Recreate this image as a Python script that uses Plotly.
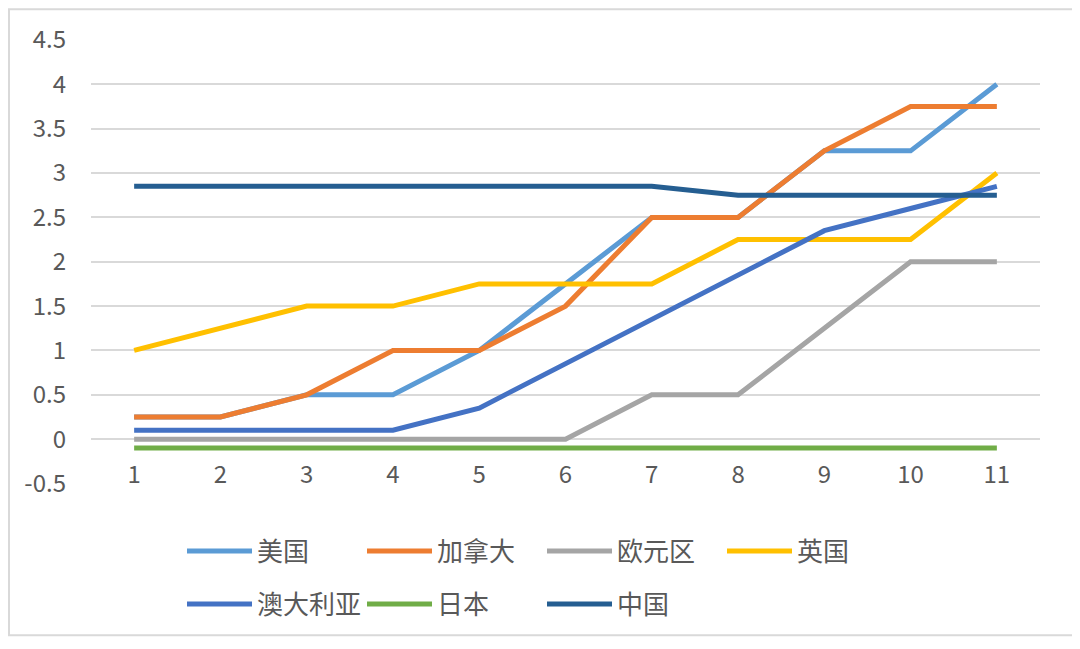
import plotly.graph_objects as go

# x categories (periods 1..11)
periods = [1, 2, 3, 4, 5, 6, 7, 8, 9, 10, 11]

usa = [0.25, 0.25, 0.5, 0.5, 1, 1.75, 2.5, 2.5, 3.25, 3.25, 4]
canada = [0.25, 0.25, 0.5, 1, 1, 1.5, 2.5, 2.5, 3.25, 3.75, 3.75]
eurozone = [0, 0, 0, 0, 0, 0, 0.5, 0.5, 1.25, 2, 2]
uk = [1, 1.25, 1.5, 1.5, 1.75, 1.75, 1.75, 2.25, 2.25, 2.25, 3]
australia = [0.1, 0.1, 0.1, 0.1, 0.35, 0.85, 1.35, 1.85, 2.35, 2.6, 2.85]
japan = [-0.1] * 11
china = [2.85, 2.85, 2.85, 2.85, 2.85, 2.85, 2.85, 2.75, 2.75, 2.75, 2.75]

y_ticks = [-0.5, 0, 0.5, 1, 1.5, 2, 2.5, 3, 3.5, 4, 4.5]
y_labels = ["-0.5", "0", "0.5", "1", "1.5", "2", "2.5", "3", "3.5", "4", "4.5"]

FONT = "Noto Sans CJK SC"
TEXT = "#595959"

# page body has an 8px margin, so the figure is 16px smaller than the window
W, H = 1064, 633

series = [
    ("美国", usa, "#5B9BD5", "legend"),
    ("加拿大", canada, "#ED7D31", "legend"),
    ("欧元区", eurozone, "#A5A5A5", "legend"),
    ("英国", uk, "#FFC000", "legend"),
    ("澳大利亚", australia, "#4472C4", "legend2"),
    ("日本", japan, "#70AD47", "legend2"),
    ("中国", china, "#255E91", "legend2"),
]

fig = go.Figure()
for name, vals, color, leg in series:
    fig.add_trace(
        go.Scatter(
            x=periods, y=vals, name=name, mode="lines",
            line=dict(color=color, width=5),
            legend=leg,
        )
    )

legend_common = dict(
    orientation="h",
    xref="container", yref="container",
    xanchor="left", yanchor="middle",
    entrywidth=100, entrywidthmode="pixels",
    itemwidth=65,
    font=dict(family=FONT, size=26, color=TEXT),
    bgcolor="rgba(0,0,0,0)",
)

fig.update_layout(
    width=W, height=H,
    paper_bgcolor="white", plot_bgcolor="white",
    margin=dict(l=83, r=32, t=32, b=154),
    font=dict(family=FONT, color=TEXT),
    showlegend=True,
    legend=dict(legend_common, x=174 / W, y=1 - 543 / H),
    legend2=dict(legend_common, x=174 / W, y=1 - 596 / H),
)

fig.update_xaxes(
    range=[0.5, 11.5],
    tickmode="array", tickvals=periods,
    showgrid=False, zeroline=False, showline=False,
    anchor="free", position=0.058,
    tickfont=dict(family=FONT, size=24, color=TEXT),
)
fig.update_yaxes(
    range=[-0.5, 4.5],
    tickmode="array", tickvals=y_ticks, ticktext=y_labels,
    showgrid=True, gridcolor="#D9D9D9", gridwidth=1.5,
    zeroline=False, showline=False,
    ticklabelstandoff=24,
    tickfont=dict(family=FONT, size=24, color=TEXT),
)

# light frame around the whole chart
fig.add_shape(
    type="rect", xref="paper", yref="paper",
    x0=-82 / 949, x1=1031 / 949, y0=-153 / 447, y1=478 / 447,
    line=dict(color="#D9D9D9", width=2), fillcolor="rgba(0,0,0,0)",
    layer="below",
)

fig.write_html("out.html")
